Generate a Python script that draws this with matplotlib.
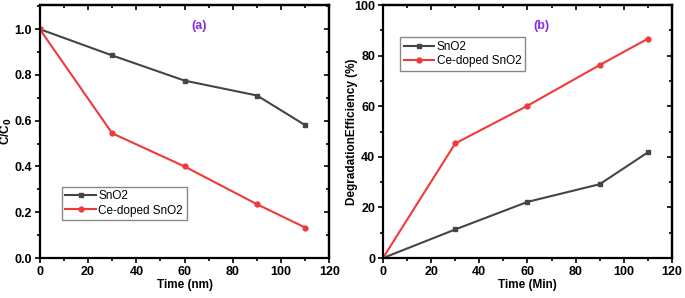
import matplotlib.pyplot as plt
from matplotlib.ticker import MultipleLocator

plt.rcParams['font.family'] = ['Liberation Sans', 'DejaVu Sans']

time = [0, 30, 60, 90, 110]
ratio_sno2 = [1.0, 0.885, 0.775, 0.71, 0.58]
ratio_ce = [1.0, 0.545, 0.40, 0.235, 0.133]
eff_sno2 = [0, 11.3, 22.2, 29.2, 41.8]
eff_ce = [0, 45.3, 60.2, 76.3, 86.7]

gray = '#454545'
red = '#f03a3a'
purple = '#8a2be2'

fig = plt.figure(figsize=(6.85, 2.98), dpi=100)
ax1 = fig.add_axes([0.058, 0.134, 0.423, 0.849])
ax2 = fig.add_axes([0.559, 0.134, 0.422, 0.849])


def style(ax):
    for s in ax.spines.values():
        s.set_linewidth(1.6)
    ax.tick_params(which='both', labelsize=9, width=1.2, pad=2)
    ax.tick_params(which='major', length=3.5)
    ax.tick_params(which='minor', length=2)
    ax.xaxis.set_major_locator(MultipleLocator(20))
    ax.xaxis.set_minor_locator(MultipleLocator(10))
    ax.set_xlim(0, 120)
    for lab in ax.get_xticklabels() + ax.get_yticklabels():
        lab.set_fontweight('bold')
    # mirrored ticks on top/right pointing inward
    sec_x = ax.secondary_xaxis('top')
    sec_x.xaxis.set_major_locator(MultipleLocator(20))
    sec_x.xaxis.set_minor_locator(MultipleLocator(10))
    sec_x.tick_params(which='both', direction='in', labeltop=False, width=1.2)
    sec_x.tick_params(which='major', length=3.5)
    sec_x.tick_params(which='minor', length=2)
    sec_y = ax.secondary_yaxis('right')
    sec_y.yaxis.set_major_locator(ax.yaxis.get_major_locator())
    sec_y.yaxis.set_minor_locator(ax.yaxis.get_minor_locator())
    sec_y.tick_params(which='both', direction='in', labelright=False, width=1.2)
    sec_y.tick_params(which='major', length=3.5)
    sec_y.tick_params(which='minor', length=2)
    for s in list(sec_x.spines.values()) + list(sec_y.spines.values()):
        s.set_linewidth(1.6)


# panel (a)
ax1.plot(time, ratio_sno2, color=gray, marker='s', ms=3.5, lw=1.5, label='SnO2')
ax1.plot(time, ratio_ce, color=red, marker='o', ms=3.5, lw=1.5, label='Ce-doped SnO2')
ax1.set_ylim(0, 1.105)
ax1.yaxis.set_major_locator(MultipleLocator(0.2))
ax1.yaxis.set_minor_locator(MultipleLocator(0.1))
ax1.set_xlabel('Time (nm)', fontsize=8.5, fontweight='bold', labelpad=1)
ax1.set_ylabel('C/C$_\\mathbf{0}$', fontsize=8.5, fontweight='bold')
ax1.yaxis.set_label_coords(-0.09, 0.5)
ax1.text(0.55, 0.905, '(a)', transform=ax1.transAxes, color=purple,
         fontsize=9, fontweight='bold', ha='center')
ax1.legend(loc='lower left', bbox_to_anchor=(0.076, 0.15), fontsize=8.5,
           fancybox=False, edgecolor='#888888', framealpha=1,
           handlelength=2.6, borderpad=0.3, labelspacing=0.2, handletextpad=0.2,
           borderaxespad=0)
style(ax1)

# panel (b)
ax2.plot(time, eff_sno2, color=gray, marker='s', ms=3.5, lw=1.5, label='SnO2')
ax2.plot(time, eff_ce, color=red, marker='o', ms=3.5, lw=1.5, label='Ce-doped SnO2')
ax2.set_ylim(0, 100)
ax2.yaxis.set_major_locator(MultipleLocator(20))
ax2.yaxis.set_minor_locator(MultipleLocator(10))
ax2.set_xlabel('Time (Min)', fontsize=8.5, fontweight='bold', labelpad=1)
ax2.set_ylabel('DegradationEfficiency (%)', fontsize=8.5, fontweight='bold')
ax2.yaxis.set_label_coords(-0.085, 0.5)
ax2.text(0.55, 0.905, '(b)', transform=ax2.transAxes, color=purple,
         fontsize=9, fontweight='bold', ha='center')
ax2.legend(loc='upper left', bbox_to_anchor=(0.059, 0.873), fontsize=8.5,
           fancybox=False, edgecolor='#888888', framealpha=1,
           handlelength=2.6, borderpad=0.3, labelspacing=0.2, handletextpad=0.2,
           borderaxespad=0)
style(ax2)

fig.savefig('out.png', dpi=100)
